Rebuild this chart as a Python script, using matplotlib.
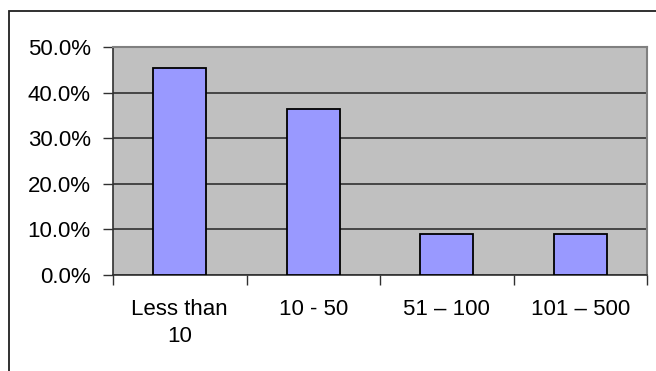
import matplotlib
matplotlib.use("Agg")
import matplotlib.pyplot as plt
from matplotlib.patches import Rectangle
from matplotlib.ticker import FuncFormatter, FixedLocator

categories = ["Less than\n10", "10 - 50", "51 \u2013 100", "101 \u2013 500"]
shares = [45.45, 36.36, 9.09, 9.09]
y_ticks = [0, 10, 20, 30, 40, 50]

plt.rcParams["font.family"] = ["Liberation Sans", "DejaVu Sans"]

fig = plt.figure(figsize=(6.56, 3.71), dpi=100)
ax = fig.add_axes([0.1723, 0.2588, 0.8140, 0.6145])

x = list(range(len(categories)))
ax.bar(x, shares, width=0.4, color="#9999FF", edgecolor="black", linewidth=1.3, zorder=3)

ax.set_facecolor("#C0C0C0")
ax.set_xlim(-0.5, len(categories) - 0.5)
ax.set_ylim(0, 50)
ax.set_yticks(y_ticks)
ax.yaxis.set_major_formatter(FuncFormatter(lambda v, p: f"{v:.1f}%"))
ax.yaxis.grid(True, color="#303030", linewidth=1.2, zorder=1)

ax.set_xticks(x)
ax.set_xticklabels(categories, linespacing=1.4)
ax.xaxis.set_minor_locator(FixedLocator([i - 0.5 for i in range(len(categories) + 1)]))
ax.tick_params(axis="x", which="major", length=0, pad=17, labelsize=16)
ax.tick_params(axis="x", which="minor", length=7, width=1, color="#303030")
ax.tick_params(axis="y", length=7, width=1, color="#303030", pad=9, labelsize=16)

for side in ["top", "right"]:
    ax.spines[side].set_color("#808080")
    ax.spines[side].set_linewidth(1.5)
for side in ["left", "bottom"]:
    ax.spines[side].set_color("#303030")
    ax.spines[side].set_linewidth(1.2)

# chart frame around the whole figure
fig.patches.append(Rectangle((8.5 / 656, -0.05), 1.1, 0.05 + (371 - 10.5) / 371,
                             transform=fig.transFigure, fill=False,
                             edgecolor="#202020", linewidth=1.3))

fig.savefig("out.png", dpi=100)
